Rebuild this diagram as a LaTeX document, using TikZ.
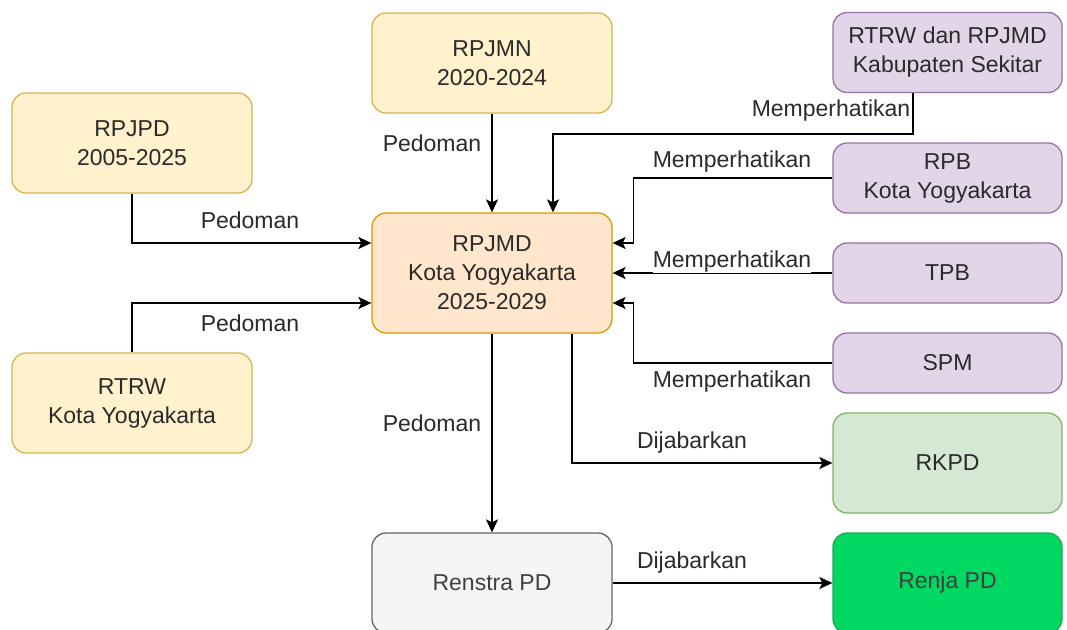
\documentclass[tikz,border=0pt]{standalone}
\usepackage{fontspec}
\setmainfont{Liberation Sans}
\usetikzlibrary{arrows.meta,calc}
\definecolor{yfill}{HTML}{FFF2CC}\definecolor{ydraw}{HTML}{D6B656}
\definecolor{ofill}{HTML}{FFE6CC}\definecolor{odraw}{HTML}{D79B00}
\definecolor{pfill}{HTML}{E1D5E7}\definecolor{pdraw}{HTML}{9673A6}
\definecolor{gfill}{HTML}{D5E8D4}\definecolor{gdraw}{HTML}{82B366}
\definecolor{sfill}{HTML}{F5F5F5}\definecolor{sdraw}{HTML}{666666}
\definecolor{bfill}{HTML}{00D862}\definecolor{bdraw}{HTML}{1FA85A}
\definecolor{txt}{HTML}{2A2A2A}
\begin{document}
\begin{tikzpicture}[x=1pt,y=-1pt,
  box/.style={rectangle,rounded corners=14pt,line width=1.3pt,align=center,
    font=\fontsize{23}{29}\selectfont,text=txt,inner sep=0pt},
  yel/.style={box,fill=yfill,draw=ydraw,minimum width=240pt,minimum height=100pt},
  org/.style={box,fill=ofill,draw=odraw,minimum width=240pt,minimum height=120pt},
  pur/.style={box,fill=pfill,draw=pdraw,minimum width=229pt},
  grn/.style={box,fill=gfill,draw=gdraw,minimum width=229pt,minimum height=100pt},
  gry/.style={box,fill=sfill,draw=sdraw,minimum width=240pt,minimum height=100pt,text=black!75},
  brt/.style={box,fill=bfill,draw=bdraw,minimum width=229pt,minimum height=100pt,text=black!75},
  conn/.style={line width=1.6pt,-{Stealth[length=13pt,width=12pt,inset=3pt]}},
  lbl/.style={font=\fontsize{23}{29}\selectfont,text=txt,inner sep=0pt,fill=white}
]
\useasboundingbox (0,0) rectangle (1067,629);
\fill[white] (0,0) rectangle (1067,629);

% nodes
\node[yel] (rpjpd) at (132,143) {RPJPD\\2005-2025};
\node[yel] (rpjmn) at (492,63) {RPJMN\\2020-2024};
\node[pur,minimum height=80pt] (kab) at (947.5,52.5) {RTRW dan RPJMD\\Kabupaten Sekitar};
\node[pur,minimum height=70pt] (rpb) at (947.5,178) {RPB\\Kota Yogyakarta};
\node[org] (rpjmd) at (492,273) {RPJMD\\Kota Yogyakarta\\2025-2029};
\node[pur,minimum height=60pt] (tpb) at (947.5,273) {TPB};
\node[pur,minimum height=60pt] (spm) at (947.5,363) {SPM};
\node[yel] (rtrw) at (132,403) {RTRW\\Kota Yogyakarta};
\node[grn] (rkpd) at (947.5,463) {RKPD};
\node[gry] (renstra) at (492,583) {Renstra PD};
\node[brt] (renja) at (947.5,583) {Renja PD};

% connectors
\coordinate (inA) at ($(rpjmd.west)+(0,-30)$);
\coordinate (inB) at ($(rpjmd.west)+(0,30)$);
\draw[conn] (rpjpd.south) |- (inA);
\draw[conn] (rtrw.north) |- (inB);
\draw[conn] (rpjmn.south) -- (rpjmd.north);

\coordinate (kabS) at ($(kab.south)+(-34.5,0)$);
\coordinate (topIn) at ($(rpjmd.north)+(61,0)$);
\draw[conn] (kabS) -- ++(0,41) -| (topIn);

\coordinate (eA) at ($(rpjmd.east)+(0,-30)$);
\coordinate (eB) at ($(rpjmd.east)+(0,30)$);
\draw[conn] (rpb.west) -| ($(eA)+(21,0)$) -- (eA);
\draw[conn] (tpb.west) -- (rpjmd.east);
\draw[conn] (spm.west) -| ($(eB)+(21,0)$) -- (eB);

\draw[conn] (rpjmd.south) -- (renstra.north);
\coordinate (botOut) at ($(rpjmd.south)+(80,0)$);
\draw[conn] (botOut) |- (rkpd.west);
\draw[conn] (renstra.east) -- (renja.west);

% labels
\node[lbl] (l1) at (250,220) {Pedoman};
\node[lbl] (l2) at (250,323) {Pedoman};
\node[lbl] (l3) at (432,143) {Pedoman};
\node[lbl,fill=none] (l4) at (831,111) {Memperhatikan};
\node[lbl] (l5) at (732,162) {Memperhatikan};
\node[lbl] (l6) at (732,262) {Memperhatikan};
\node[lbl] (l7) at (732,382) {Memperhatikan};
\node[lbl] (l8) at (432,423) {Pedoman};
\node[lbl] (l9) at (692,443) {Dijabarkan};
\node[lbl] (l10) at (692,563) {Dijabarkan};
\end{tikzpicture}
\end{document}
